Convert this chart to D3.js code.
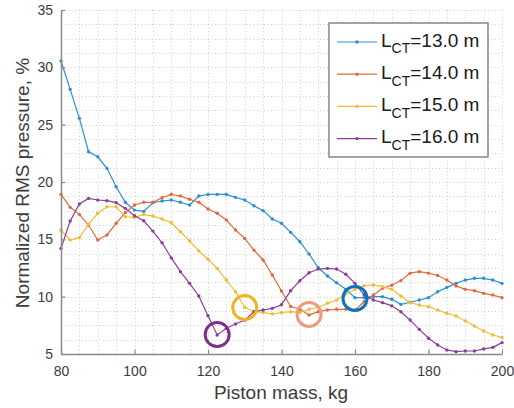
<!DOCTYPE html>
<html>
<head>
<meta charset="utf-8">
<script src="https://cdn.jsdelivr.net/npm/d3@7"></script>
<style>
  html, body { margin: 0; padding: 0; background: #fff; }
  svg { display: block; font-family: "Liberation Sans", Arial, Helvetica, sans-serif; }
</style>
</head>
<body>
<svg id="chart" width="514" height="408"></svg>
<script>
// ---- data ----
const masses = [80, 82.5, 85, 87.5, 90, 92.5, 95, 97.5, 100, 102.5, 105, 107.5, 110, 112.5, 115, 117.5,
  120, 122.5, 125, 127.5, 130, 132.5, 135, 137.5, 140, 142.5, 145, 147.5, 150, 152.5, 155, 157.5,
  160, 162.5, 165, 167.5, 170, 172.5, 175, 177.5, 180, 182.5, 185, 187.5, 190, 192.5, 195, 197.5, 200];

const seriesNames = ["13.0", "14.0", "15.0", "16.0"];

const rms13 = [30.55, 28.08, 25.55, 22.64, 22.2, 21.19, 19.59, 18.23, 17.55, 17.44, 18.19, 18.34, 18.43, 18.23, 17.99, 18.78,
  18.92, 18.92, 18.92, 18.66, 18.43, 17.93, 17.5, 16.77, 16.4, 15.61, 14.79, 13.72, 12.52, 11.8, 11.22, 10.64,
  9.91, 9.91, 10.0, 10.0, 9.77, 9.33, 9.51, 9.71, 9.91, 10.43, 10.81, 11.16, 11.45, 11.6, 11.6, 11.45, 11.16];

const rms14 = [18.92, 17.79, 17.18, 16.25, 14.94, 15.38, 16.4, 17.35, 17.99, 18.23, 18.23, 18.63, 18.92, 18.78, 18.49, 18.23,
  17.64, 17.27, 16.68, 15.81, 15.08, 14.06, 13.2, 11.89, 10.5, 9.14, 8.9, 8.4, 8.69, 8.84, 8.9, 8.9,
  8.84, 9.56, 10.14, 10.73, 11.0, 11.4, 12.05, 12.18, 12.05, 11.85, 11.45, 10.93, 10.64, 10.52, 10.29, 10.14, 9.91];

const rms15 = [15.81, 14.94, 15.15, 16.31, 17.27, 17.84, 17.84, 16.97, 16.91, 17.18, 17.03, 16.77, 16.45, 15.66, 14.85, 13.98,
  13.26, 12.47, 11.45, 10.43, 9.07, 8.69, 8.63, 8.49, 8.6, 8.69, 8.63, 8.9, 9.07, 9.42, 9.71, 10.23,
  10.64, 10.95, 11.02, 10.87, 10.64, 10.06, 9.48, 9.27, 9.13, 8.84, 8.55, 8.31, 7.88, 7.44, 7.0, 6.66, 6.45];

const rms16 = [14.21, 16.6, 18.08, 18.57, 18.43, 18.37, 18.2, 17.7, 17.06, 16.62, 15.72, 14.7, 13.38, 12.18, 11.16, 10.06,
  8.34, 6.66, 7.24, 7.62, 7.96, 8.69, 8.84, 8.98, 9.3, 10.52, 11.39, 12.09, 12.41, 12.47, 12.41, 11.95,
  11.16, 10.14, 9.71, 9.48, 9.2, 8.69, 7.96, 7.15, 6.37, 5.78, 5.35, 5.2, 5.26, 5.26, 5.44, 5.58, 5.99];

// highlighted minima (mass, value, series index)
const highlightMass = [122.5, 130, 147.5, 160];
const highlightValue = [6.7, 9.05, 8.45, 9.85];
const highlightSeries = [3, 2, 1, 0];

const xTicks = [80, 100, 120, 140, 160, 180, 200];
const yTicks = [5, 10, 15, 20, 25, 30, 35];

// ---- style ----
const lineColors = ["#2a8fd4", "#e2693a", "#f1bb35", "#8b3e9b"];
const circleColors = ["#0b74c0", "#ef9a78", "#eeb424", "#7e2f8e"];
const allSeries = [rms13, rms14, rms15, rms16];

const svg = d3.select("#chart");
const W = 514, H = 408;
const mLeft = 61, mRight = 502, mTop = 10, mBottom = 354;

svg.append("rect").attr("width", W).attr("height", H).attr("fill", "#fff");

const x = d3.scaleLinear().domain([80, 200]).range([mLeft, mRight]);
const y = d3.scaleLinear().domain([5, 35]).range([mBottom, mTop]);

// grid (major+minor, dotted)
const gx = d3.range(85, 200.01, 5);
const gy = d3.range(6.25, 35.01, 1.25);
const grid = svg.append("g").attr("stroke", "#cfcfcf").attr("stroke-width", 1).attr("stroke-dasharray", "1,2.5");
grid.selectAll("line.gx").data(gx).enter().append("line")
  .attr("x1", d => Math.round(x(d)) + 0.5).attr("x2", d => Math.round(x(d)) + 0.5)
  .attr("y1", mTop).attr("y2", mBottom);
grid.selectAll("line.gy").data(gy).enter().append("line")
  .attr("y1", d => Math.round(y(d)) + 0.5).attr("y2", d => Math.round(y(d)) + 0.5)
  .attr("x1", mLeft).attr("x2", mRight);

// lines + markers
const line = d3.line().x((d, i) => x(masses[i])).y(d => y(d));
allSeries.forEach((s, k) => {
  svg.append("path").datum(s).attr("d", line)
    .attr("fill", "none").attr("stroke", lineColors[k]).attr("stroke-width", 1.2);
  svg.append("g").selectAll("circle").data(s).enter().append("circle")
    .attr("cx", (d, i) => x(masses[i])).attr("cy", d => y(d)).attr("r", 1.7)
    .attr("fill", lineColors[k]);
});

// highlight circles
svg.append("g").selectAll("circle").data(highlightMass).enter().append("circle")
  .attr("cx", d => x(d)).attr("cy", (d, i) => y(highlightValue[i])).attr("r", 12)
  .attr("fill", "none").attr("stroke", (d, i) => circleColors[highlightSeries[i]])
  .attr("stroke-width", 3);

// axes
const axisColor = "#8a8a8a", textColor = "#3c3c3c";
const xAxis = svg.append("g").attr("transform", `translate(0,${mBottom})`)
  .call(d3.axisBottom(x).tickValues(xTicks).tickSizeInner(-4.5).tickSizeOuter(0).tickPadding(12));
const yAxis = svg.append("g").attr("transform", `translate(${mLeft},0)`)
  .call(d3.axisLeft(y).tickValues(yTicks).tickSizeInner(-4.5).tickSizeOuter(0).tickPadding(8));
[xAxis, yAxis].forEach(a => {
  a.select(".domain").attr("stroke", axisColor).attr("stroke-width", 1.5);
  a.selectAll(".tick line").attr("stroke", axisColor).attr("stroke-width", 1.2);
  a.selectAll(".tick text").attr("fill", textColor).attr("font-size", 14)
    .attr("font-family", "Liberation Sans, Arial, sans-serif");
});

// axis labels
svg.append("text").attr("x", 281).attr("y", 399).attr("text-anchor", "middle")
  .attr("font-size", 19).attr("fill", textColor).text("Piston mass, kg");
svg.append("text").attr("transform", "translate(29,183) rotate(-90)").attr("text-anchor", "middle")
  .attr("font-size", 19).attr("fill", textColor).text("Normalized RMS pressure, %");

// legend
const lg = svg.append("g");
lg.append("rect").attr("x", 329).attr("y", 23).attr("width", 159).attr("height", 134)
  .attr("fill", "#fff").attr("stroke", "#858585").attr("stroke-width", 1.5);
seriesNames.forEach((name, k) => {
  const ly = 42 + k * 32.2;
  lg.append("line").attr("x1", 337).attr("x2", 377).attr("y1", ly).attr("y2", ly)
    .attr("stroke", lineColors[k]).attr("stroke-width", 1.2);
  lg.append("circle").attr("cx", 357).attr("cy", ly).attr("r", 1.7).attr("fill", lineColors[k]);
  const t = lg.append("text").attr("x", 381).attr("y", ly + 4.5).attr("fill", "#1a1a1a").attr("font-size", 19);
  t.append("tspan").text("L");
  t.append("tspan").attr("font-size", 14).attr("dy", 6.8).text("CT");
  t.append("tspan").attr("dy", -6.8).text("=" + name + " m");
});
</script>
</body>
</html>
